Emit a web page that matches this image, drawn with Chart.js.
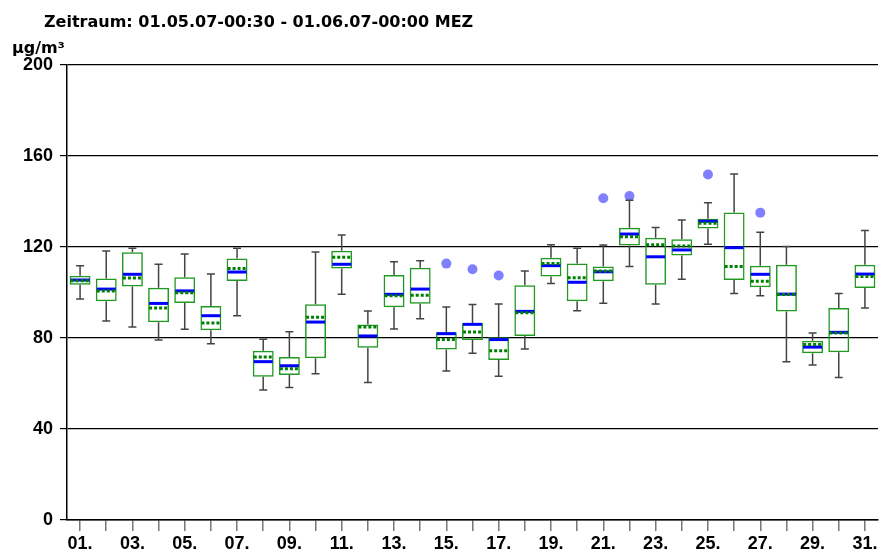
<!DOCTYPE html>
<html>
<head>
<meta charset="utf-8">
<script src="https://cdn.jsdelivr.net/npm/chart.js@4/dist/chart.umd.min.js"></script>
<style>
  html, body { margin: 0; padding: 0; background: #fff; }
  #wrap { width: 884px; height: 553px; }
</style>
</head>
<body>
<div id="wrap"><canvas id="chart" width="884" height="553"></canvas></div>
<script>
const days = ['01.','02.','03.','04.','05.','06.','07.','08.','09.','10.','11.','12.','13.','14.','15.','16.',
  '17.','18.','19.','20.','21.','22.','23.','24.','25.','26.','27.','28.','29.','30.','31.'];

const maxVals  = [111.8,118.2,119.4,112.4,116.9,108.1,119.4,79.5,82.8,117.8,125.3,91.9,113.5,114.0,93.6,94.7,
  94.9,109.5,121.0,119.4,120.9,140.5,128.6,131.9,139.5,152.1,126.5,120.2,82.2,99.6,127.2];
const q3Vals   = [107.4,106.1,117.7,102.1,106.7,94.1,115.0,74.4,71.6,94.8,118.4,85.9,107.7,110.9,82.5,86.6,
  80.3,103.2,115.3,112.7,111.4,128.5,124.1,123.4,132.4,135.2,111.8,112.2,78.8,93.2,112.2];
const medians  = [105.5,101.5,108.0,95.2,100.7,89.8,109.0,69.6,67.8,87.0,112.4,80.9,99.2,101.5,81.9,86.0,
  79.3,91.7,111.8,104.5,109.1,125.7,115.7,118.7,131.3,119.7,108.0,99.3,76.0,82.5,108.1];
const means    = [105.2,100.7,106.4,93.2,99.9,86.6,110.6,71.6,66.5,89.1,115.5,84.8,98.6,98.8,79.3,82.6,
  74.4,91.1,112.7,106.5,109.5,124.5,121.0,120.4,130.4,111.4,104.9,99.1,77.1,82.2,107.0];
const q1Vals   = [103.4,96.1,102.6,86.9,95.4,83.4,105.1,63.0,63.7,71.1,110.6,75.7,93.5,95.1,75.0,79.1,
  70.3,80.9,107.0,96.1,104.9,120.7,103.4,116.3,128.1,105.5,102.3,91.7,73.3,73.7,102.0];
const minVals  = [97.1,87.5,84.8,79.1,83.8,77.5,89.8,57.1,58.2,64.3,99.2,60.4,84.0,88.5,65.5,73.3,
  63.2,75.2,104.0,92.0,95.3,111.4,94.9,105.8,121.2,99.6,98.6,69.6,68.1,62.6,93.2];
const outliers = [null,null,null,null,null,null,null,null,null,null,null,null,null,null,112.7,110.2,
  107.5,null,null,null,141.4,142.4,null,null,151.9,null,135.1,null,null,null,null];

const yTicks = [0, 40, 80, 120, 160, 200];

const boxes = q1Vals.map((q1, i) => [q1, q3Vals[i]]);

// whiskers, median and mean lines drawn on top of the box bars
const boxPlotLines = {
  id: 'boxPlotLines',
  afterDatasetsDraw(chart) {
    const ctx = chart.ctx;
    const y = chart.scales.y;
    const meta = chart.getDatasetMeta(0);
    ctx.save();
    meta.data.forEach((bar, i) => {
      const cx = bar.x, half = bar.width / 2;
      // whiskers
      ctx.strokeStyle = '#444';
      ctx.lineWidth = 1.5;
      ctx.setLineDash([]);
      ctx.beginPath();
      ctx.moveTo(cx, y.getPixelForValue(q3Vals[i]));
      ctx.lineTo(cx, y.getPixelForValue(maxVals[i]));
      ctx.moveTo(cx, y.getPixelForValue(q1Vals[i]));
      ctx.lineTo(cx, y.getPixelForValue(minVals[i]));
      ctx.moveTo(cx - 4, y.getPixelForValue(maxVals[i]));
      ctx.lineTo(cx + 4, y.getPixelForValue(maxVals[i]));
      ctx.moveTo(cx - 4, y.getPixelForValue(minVals[i]));
      ctx.lineTo(cx + 4, y.getPixelForValue(minVals[i]));
      ctx.stroke();
      // median
      ctx.strokeStyle = '#0000ff';
      ctx.lineWidth = 3;
      ctx.beginPath();
      ctx.moveTo(cx - half + 1, y.getPixelForValue(medians[i]));
      ctx.lineTo(cx + half - 1, y.getPixelForValue(medians[i]));
      ctx.stroke();
      // mean
      ctx.strokeStyle = '#008000';
      ctx.lineWidth = 3;
      ctx.setLineDash([3, 2]);
      ctx.beginPath();
      ctx.moveTo(cx - half + 1, y.getPixelForValue(means[i]));
      ctx.lineTo(cx + half - 1, y.getPixelForValue(means[i]));
      ctx.stroke();
    });
    ctx.restore();
  }
};

const headerText = {
  id: 'headerText',
  afterDraw(chart) {
    const ctx = chart.ctx;
    ctx.save();
    ctx.fillStyle = '#000';
    ctx.font = 'bold 16px "DejaVu Sans"';
    ctx.textBaseline = 'alphabetic';
    ctx.fillText('Zeitraum: 01.05.07-00:30 - 01.06.07-00:00 MEZ', 44, 27);
    ctx.fillText('µg/m³', 12, 53);
    ctx.restore();
  }
};

new Chart(document.getElementById('chart'), {
  type: 'bar',
  data: {
    labels: days,
    datasets: [{
      label: 'Box',
      data: boxes,
      backgroundColor: 'rgba(0,0,0,0)',
      borderColor: '#229922',
      borderWidth: 1.5,
      borderSkipped: false,
      barPercentage: 0.8,
      categoryPercentage: 1.0,
      order: 2
    }, {
      type: 'line',
      label: 'Ausreißer',
      data: outliers,
      showLine: false,
      pointRadius: 5,
      pointBorderWidth: 0,
      pointBackgroundColor: '#8080ff',
      borderColor: '#8080ff',
      order: 1
    }]
  },
  options: {
    responsive: false,
    animation: false,
    layout: { padding: { top: 65, right: 6, left: 0, bottom: 0 } },
    plugins: { legend: { display: false }, tooltip: { enabled: false } },
    scales: {
      x: {
        offset: true,
        grid: { display: true, drawOnChartArea: false, offset: false, tickLength: 11, color: '#777', lineWidth: 1.5 },
        border: { display: true, color: '#000', width: 1.5 },
        ticks: {
          autoSkip: false, maxRotation: 0, padding: 2, color: '#000',
          font: { family: '"Liberation Sans", Arial', size: 18, weight: 'bold' },
          callback: (v, i) => i % 2 === 0 ? days[i] : ''
        },
        afterFit: s => { s.height = 33; }
      },
      y: {
        min: 0, max: 200,
        afterBuildTicks: s => { s.ticks = yTicks.map(v => ({ value: v })); },
        grid: { color: '#000', lineWidth: 1.2, tickLength: 7 },
        border: { display: true, color: '#000', width: 1.5 },
        ticks: {
          padding: 7, color: '#000',
          font: { family: '"Liberation Sans", Arial', size: 18, weight: 'bold' }
        },
        afterFit: s => { s.width = 67; }
      }
    }
  },
  plugins: [boxPlotLines, headerText]
});
</script>
</body>
</html>
